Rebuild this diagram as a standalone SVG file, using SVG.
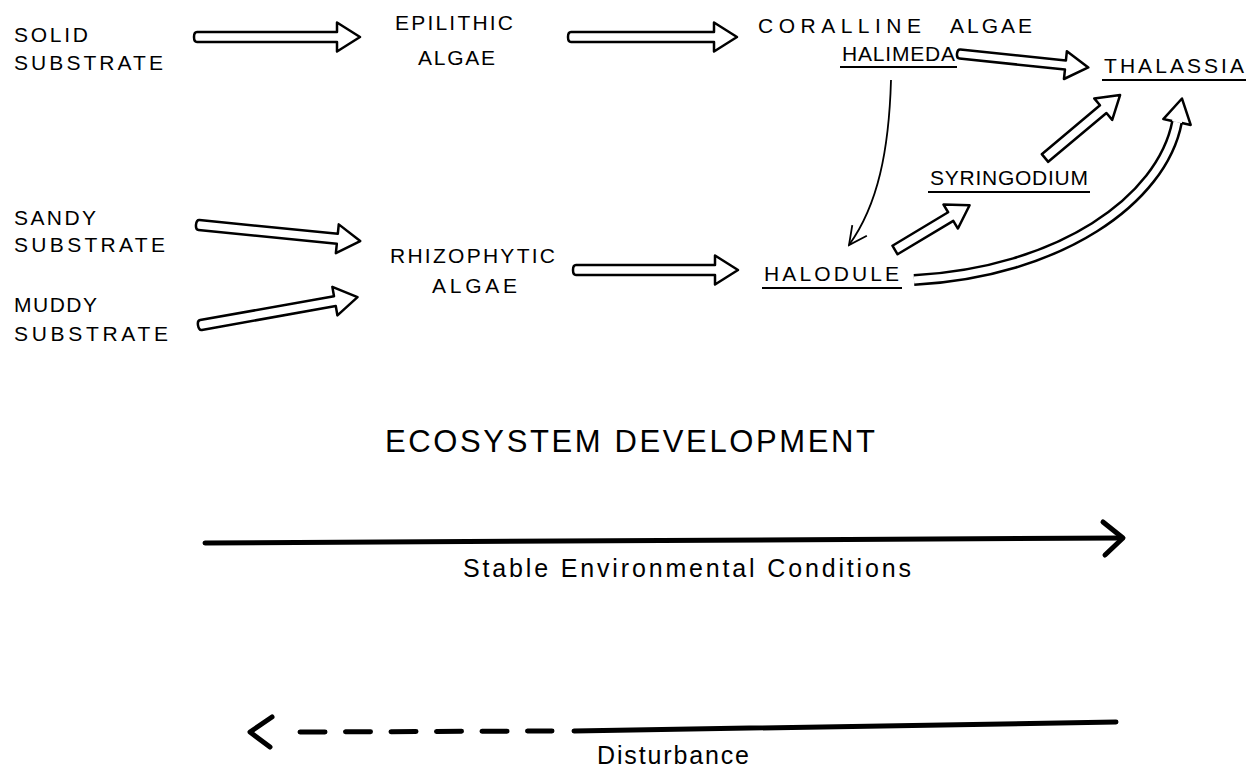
<svg xmlns="http://www.w3.org/2000/svg" width="1248" height="767" viewBox="0 0 1248 767">
<style>
  .lbl { font-family: "Liberation Sans", Arial, sans-serif; font-size: 21px; fill: #000; }
  .big { font-family: "Liberation Sans", Arial, sans-serif; font-size: 31px; fill: #000; }
  .low { font-family: "Liberation Sans", Arial, sans-serif; font-size: 25px; fill: #000; }
  .hollow { fill: #fff; stroke: #000; stroke-width: 2.5; stroke-linejoin: round; }
  .ul { stroke: #000; stroke-width: 2; }
  .thin { fill: none; stroke: #000; stroke-width: 1.8; }
  .heavy { fill: none; stroke: #000; stroke-width: 5; stroke-linecap: round; stroke-linejoin: round; }
</style>
<defs>
  <marker id="vhead" viewBox="0 0 22 22" refX="20" refY="11" markerWidth="22" markerHeight="22" markerUnits="userSpaceOnUse" orient="auto">
    <polyline points="2,2 20,11 2,20" fill="none" stroke="#000" stroke-width="1.8"/>
  </marker>
</defs>
<rect width="1248" height="767" fill="#fff"/>

<g id="solid-substrate">
  <text class="lbl" x="14" y="42" textLength="74" lengthAdjust="spacing">SOLID</text>
  <text class="lbl" x="14" y="70" textLength="149" lengthAdjust="spacing">SUBSTRATE</text>
</g>
<g id="epilithic-algae">
  <text class="lbl" x="395" y="30" textLength="118" lengthAdjust="spacing">EPILITHIC</text>
  <text class="lbl" x="418" y="65" textLength="77" lengthAdjust="spacing">ALGAE</text>
</g>
<g id="coralline-halimeda">
  <text class="lbl" x="758" y="33" textLength="163" lengthAdjust="spacing">CORALLINE</text>
  <text class="lbl" x="950" y="33" textLength="82" lengthAdjust="spacing">ALGAE</text>
  <text class="lbl" x="842" y="61" textLength="113" lengthAdjust="spacing">HALIMEDA</text>
  <line class="ul" x1="840" y1="67" x2="957" y2="67"/>
</g>
<g id="thalassia">
  <text class="lbl" x="1104" y="73" textLength="140" lengthAdjust="spacing">THALASSIA</text>
  <line class="ul" x1="1102" y1="80" x2="1246" y2="80"/>
</g>
<g id="sandy-substrate">
  <text class="lbl" x="14" y="225" textLength="82" lengthAdjust="spacing">SANDY</text>
  <text class="lbl" x="14" y="252" textLength="151" lengthAdjust="spacing">SUBSTRATE</text>
</g>
<g id="muddy-substrate">
  <text class="lbl" x="14" y="312" textLength="83" lengthAdjust="spacing">MUDDY</text>
  <text class="lbl" x="14" y="341" textLength="154" lengthAdjust="spacing">SUBSTRATE</text>
</g>
<g id="rhizophytic-algae">
  <text class="lbl" x="390" y="263" textLength="165" lengthAdjust="spacing">RHIZOPHYTIC</text>
  <text class="lbl" x="432" y="293" textLength="85" lengthAdjust="spacing">ALGAE</text>
</g>
<g id="syringodium">
  <text class="lbl" x="930" y="185" textLength="158" lengthAdjust="spacing">SYRINGODIUM</text>
  <line class="ul" x1="928" y1="192" x2="1090" y2="192"/>
</g>
<g id="halodule">
  <text class="lbl" x="764" y="281" textLength="135" lengthAdjust="spacing">HALODULE</text>
  <line class="ul" x1="762" y1="288" x2="902" y2="288"/>
</g>
<g id="ecosystem-development">
  <text class="big" x="385" y="452" textLength="490" lengthAdjust="spacing">ECOSYSTEM  DEVELOPMENT</text>
</g>
<g id="stable-label">
  <text class="low" x="463" y="577" textLength="448" lengthAdjust="spacing">Stable  Environmental  Conditions</text>
</g>
<g id="disturbance-label">
  <text class="low" x="597" y="764" textLength="152" lengthAdjust="spacing">Disturbance</text>
</g>

<g id="connectors">
  <path class="hollow" transform="translate(197,37)" d="M0,-5 L140,-5 L140,-14.5 L163,0 L140,14.5 L140,5 L0,5 Q-3,5 -3,0 Q-3,-5 0,-5 Z"/>
  <path class="hollow" transform="translate(571,37)" d="M0,-5 L143,-5 L143,-14.5 L166,0 L143,14.5 L143,5 L0,5 Q-3,5 -3,0 Q-3,-5 0,-5 Z"/>
  <path class="hollow" transform="translate(960,54) rotate(6)" d="M0,-4.5 L106,-4.5 L106,-14 L129,0 L106,14 L106,4.5 L0,4.5 Q-3,4.5 -3,0 Q-3,-4.5 0,-4.5 Z"/>
  <path class="hollow" transform="translate(199,225) rotate(5.7)" d="M0,-5 L139,-5 L139,-14.5 L162,0 L139,14.5 L139,5 L0,5 Q-3,5 -3,0 Q-3,-5 0,-5 Z"/>
  <path class="hollow" transform="translate(201,325) rotate(-10.1)" d="M0,-5 L136,-5 L136,-14.5 L159,0 L136,14.5 L136,5 L0,5 Q-3,5 -3,0 Q-3,-5 0,-5 Z"/>
  <path class="hollow" transform="translate(576,270)" d="M0,-5 L139,-5 L139,-14.5 L162,0 L139,14.5 L139,5 L0,5 Q-3,5 -3,0 Q-3,-5 0,-5 Z"/>
  <path class="hollow" transform="translate(895,250) rotate(-31)" d="M0,-5 L65,-5 L65,-14 L87,0 L65,14 L65,5 L0,5 Z"/>
  <path class="hollow" transform="translate(1045,158) rotate(-40)" d="M0,-5 L76,-5 L76,-14 L98,0 L76,14 L76,5 L0,5 Z"/>
  <path d="M914,280 C1060,272 1162,200 1177,122" fill="none" stroke="#000" stroke-width="12"/>
  <path d="M914,280 C1060,272 1162,200 1177,122" fill="none" stroke="#fff" stroke-width="7"/>
  <path transform="translate(1177,122) rotate(-78)" d="M0,-5 L0,-14 L24,0 L0,14 L0,5" fill="#fff" stroke="#000" stroke-width="2.5" stroke-linejoin="round"/>
  <path class="thin" d="M891,80 C889,150 878,205 849,245" marker-end="url(#vhead)"/>
  <line class="heavy" x1="205" y1="543" x2="1121" y2="538"/>
  <polyline class="heavy" points="1103,522 1123,538 1105,555"/>
  <polyline class="heavy" points="272,717 250,732 270,747"/>
  <line class="heavy" x1="300" y1="732" x2="552" y2="731" stroke-dasharray="25 20.5"/>
  <line class="heavy" x1="574" y1="731" x2="1116" y2="722"/>
</g>
</svg>
